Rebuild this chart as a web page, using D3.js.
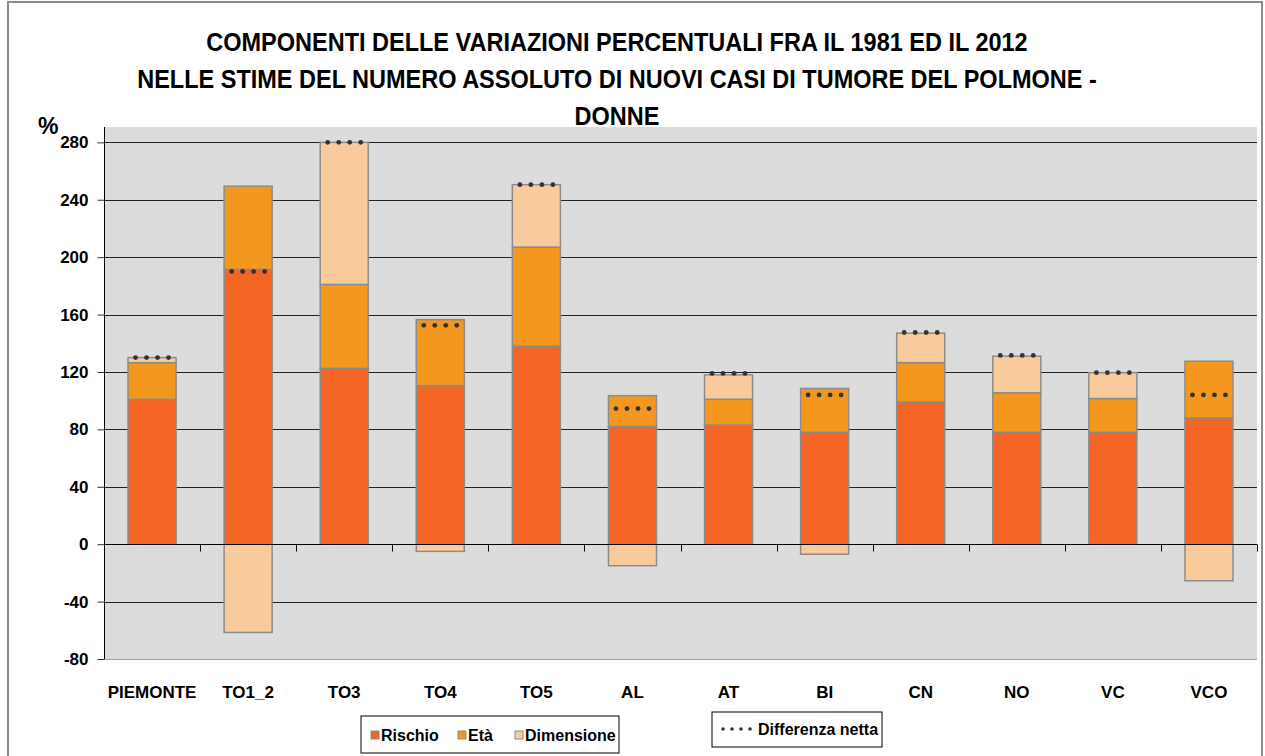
<!DOCTYPE html>
<html lang="it">
<head>
<meta charset="UTF-8">
<title>Componenti delle variazioni percentuali</title>
<script src="https://d3js.org/d3.v7.min.js"></script>
<style>
  body { margin: 0; background: #fff; }
  svg text { font-family: "Liberation Sans", Arial, sans-serif; font-weight: bold; fill: #000; }
</style>
</head>
<body>
<svg id="chart" width="1265" height="756"></svg>
<script>
// dati
var categorie = ["PIEMONTE", "TO1_2", "TO3", "TO4", "TO5", "AL", "AT", "BI", "CN", "NO", "VC", "VCO"];
var rischio = [101, 191.5, 122.5, 110.5, 138, 82, 83, 78, 99, 78, 78, 88];
var eta = [25.5, 58, 58.5, 46, 69, 21.5, 18, 30.5, 27.5, 27.5, 23.5, 39.5];
var dimensione = [3.5, -61.5, 99, -5, 43.5, -15, 17, -7, 20.5, 25.5, 18, -25.5];
var differenzaNetta = [130, 190, 280, 152.5, 250.5, 94.5, 119, 104, 147.5, 131.5, 119.5, 104];
var yTicks = [-80, -40, 0, 40, 80, 120, 160, 200, 240, 280];
var serie = ["Rischio", "Età", "Dimensione"];
var titolo = [
  "COMPONENTI DELLE VARIAZIONI PERCENTUALI FRA IL 1981 ED IL 2012",
  "NELLE STIME DEL NUMERO ASSOLUTO DI NUOVI CASI DI TUMORE DEL POLMONE -",
  "DONNE"
];

var colori = { "Rischio": "#F26522", "Età": "#F3971F", "Dimensione": "#F9CA9A" };

var svg = d3.select("#chart");
var plot = { left: 104, right: 1257, top: 127, bottom: 659 };

// cornice esterna
svg.append("rect")
  .attr("x", 8).attr("y", 2)
  .attr("width", 1254).attr("height", 780)
  .attr("fill", "none")
  .attr("stroke", "#8a8a8a")
  .attr("stroke-width", 2);

var x = d3.scaleBand()
  .domain(categorie)
  .range([plot.left, plot.right])
  .paddingInner(0.5)
  .paddingOuter(0.25);

var y = d3.scaleLinear()
  .domain([-80, 290.7])
  .range([plot.bottom, plot.top]);

var righe = categorie.map(function (c, i) {
  return { cat: c, "Rischio": rischio[i], "Età": eta[i], "Dimensione": dimensione[i], netta: differenzaNetta[i] };
});

var stack = d3.stack()
  .keys(serie)
  .offset(d3.stackOffsetDiverging)(righe);

// sfondo area grafico
svg.append("rect")
  .attr("x", plot.left).attr("y", plot.top)
  .attr("width", plot.right - plot.left)
  .attr("height", plot.bottom - plot.top)
  .attr("fill", "#DCDCDC");

// griglia
svg.append("g")
  .selectAll("line")
  .data(yTicks)
  .join("line")
  .attr("x1", plot.left).attr("x2", plot.right)
  .attr("y1", function (d) { return Math.round(y(d)) + 0.5; })
  .attr("y2", function (d) { return Math.round(y(d)) + 0.5; })
  .attr("stroke", function (d) { return d === -80 ? "#a8a8a8" : "#222"; })
  .attr("stroke-width", 1);

// barre
svg.append("g")
  .selectAll("g")
  .data(stack)
  .join("g")
  .attr("fill", function (d) { return colori[d.key]; })
  .selectAll("rect")
  .data(function (d) { return d; })
  .join("rect")
  .attr("x", function (d) { return x(d.data.cat); })
  .attr("width", x.bandwidth())
  .attr("y", function (d) { return y(Math.max(d[0], d[1])); })
  .attr("height", function (d) { return Math.abs(y(d[0]) - y(d[1])); })
  .attr("stroke", "#8c8c8c")
  .attr("stroke-width", 1.5);

// asse y
var assey = d3.axisLeft(y)
  .tickValues(yTicks)
  .tickSize(7)
  .tickFormat(function (d) { return String(d); });
svg.append("g")
  .attr("transform", "translate(" + (plot.left + 0.5) + ",0)")
  .call(assey)
  .call(function (g) {
    g.select(".domain").attr("stroke", "#000").attr("d", "M0," + plot.top + "V" + plot.bottom);
    g.selectAll(".tick line").attr("stroke", "#333");
    g.selectAll(".tick text").attr("x", -16).style("font-size", "17px");
  });

// asse x sullo zero
var zeroY = Math.round(y(0)) + 0.5;
svg.append("line")
  .attr("x1", plot.left).attr("x2", plot.right)
  .attr("y1", zeroY).attr("y2", zeroY)
  .attr("stroke", "#000");

svg.append("g")
  .selectAll("line")
  .data(categorie)
  .join("line")
  .attr("x1", function (d) { return Math.round(x(d) + x.bandwidth() + x.step() * 0.25) + 0.5; })
  .attr("x2", function (d) { return Math.round(x(d) + x.bandwidth() + x.step() * 0.25) + 0.5; })
  .attr("y1", zeroY).attr("y2", zeroY + 7)
  .attr("stroke", "#000");

// etichette categorie
svg.append("g")
  .selectAll("text")
  .data(categorie)
  .join("text")
  .attr("x", function (d) { return x(d) + x.bandwidth() / 2; })
  .attr("y", 698)
  .attr("text-anchor", "middle")
  .style("font-size", "17px")
  .text(function (d) { return d; });

// differenza netta: quattro puntini per barra
var puntini = [];
righe.forEach(function (r) {
  [-1.5, -0.5, 0.5, 1.5].forEach(function (k) {
    puntini.push({ cat: r.cat, v: r.netta, k: k });
  });
});
svg.append("g")
  .selectAll("circle")
  .data(puntini)
  .join("circle")
  .attr("cx", function (d) { return x(d.cat) + x.bandwidth() / 2 + d.k * 11; })
  .attr("cy", function (d) { return y(d.v); })
  .attr("r", 2.4)
  .attr("fill", "#333");

// titolo (leggermente stretto come nell'originale)
svg.append("g")
  .attr("transform", "translate(617,0) scale(0.94,1)")
  .selectAll("text")
  .data(titolo)
  .join("text")
  .attr("x", 0)
  .attr("y", function (d, i) { return 51 + i * 37; })
  .attr("text-anchor", "middle")
  .style("font-size", "25px")
  .text(function (d) { return d; });

svg.append("text")
  .attr("x", 38).attr("y", 134)
  .style("font-size", "23px")
  .text("%");

// legenda serie
var leg1 = svg.append("g").attr("transform", "translate(361,716)");
leg1.append("rect")
  .attr("width", 258).attr("height", 37)
  .attr("fill", "#fff").attr("stroke", "#000");
var voci = leg1.selectAll("g")
  .data(serie)
  .join("g")
  .attr("transform", function (d, i) { return "translate(" + [10, 97, 154][i] + ",19)"; });
voci.append("rect")
  .attr("x", 0).attr("y", -4)
  .attr("width", 8).attr("height", 8)
  .attr("fill", function (d) { return colori[d]; })
  .attr("stroke", "#8c8c8c");
voci.append("text")
  .attr("x", 10).attr("y", 6)
  .style("font-size", "16px")
  .text(function (d) { return d; });

// legenda differenza netta
var leg2 = svg.append("g").attr("transform", "translate(712,712)");
leg2.append("rect")
  .attr("width", 170).attr("height", 35)
  .attr("fill", "#fff").attr("stroke", "#000");
leg2.selectAll("circle")
  .data([0, 1, 2, 3])
  .join("circle")
  .attr("cx", function (d) { return 11 + d * 9; })
  .attr("cy", 17)
  .attr("r", 1.8)
  .attr("fill", "#333");
leg2.append("text")
  .attr("x", 46).attr("y", 23)
  .style("font-size", "16px")
  .text("Differenza netta");
</script>
</body>
</html>
